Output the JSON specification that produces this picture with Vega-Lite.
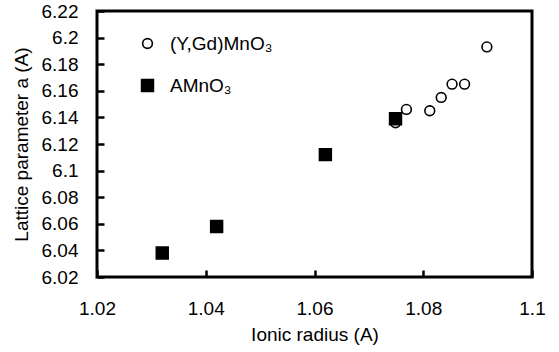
{
  "$schema": "https://vega.github.io/schema/vega-lite/v6.json",
  "width": 435,
  "height": 266,
  "autosize": "none",
  "padding": {"left": 97, "top": 11, "right": 27, "bottom": 75},
  "background": "white",
  "config": {
    "font": "Liberation Sans",
    "view": {"stroke": "black", "strokeWidth": 3}
  },
  "data": {
    "values": [
      {"series": "AMnO₃", "r": 1.032, "a": 6.038},
      {"series": "AMnO₃", "r": 1.042, "a": 6.058},
      {"series": "AMnO₃", "r": 1.062, "a": 6.112},
      {"series": "(Y,Gd)MnO₃", "r": 1.0749, "a": 6.136},
      {"series": "(Y,Gd)MnO₃", "r": 1.0769, "a": 6.146},
      {"series": "(Y,Gd)MnO₃", "r": 1.0812, "a": 6.145},
      {"series": "(Y,Gd)MnO₃", "r": 1.0833, "a": 6.155},
      {"series": "(Y,Gd)MnO₃", "r": 1.0853, "a": 6.165},
      {"series": "(Y,Gd)MnO₃", "r": 1.0876, "a": 6.165},
      {"series": "(Y,Gd)MnO₃", "r": 1.0917, "a": 6.193},
      {"series": "AMnO₃", "r": 1.0749, "a": 6.139}
    ]
  },
  "mark": {"type": "point", "strokeWidth": 1.6, "opacity": 1},
  "encoding": {
    "x": {
      "field": "r",
      "type": "quantitative",
      "title": "Ionic radius (A)",
      "scale": {"domain": [1.02, 1.1], "nice": false, "zero": false},
      "axis": {
        "values": [1.02, 1.04, 1.06, 1.08, 1.1], "format": "~g",
        "offset": -7,
        "grid": false, "domain": false, "ticks": true, "tickColor": "black", "tickWidth": 2.5, "tickSize": 7,
        "labelFont": "Liberation Sans", "labelFontSize": 19, "labelColor": "black", "labelPadding": 22, "labelFlush": false,
        "titleFont": "Liberation Sans", "titleFontSize": 19, "titleFontWeight": "normal", "titleColor": "black", "titlePadding": 7
      }
    },
    "y": {
      "field": "a",
      "type": "quantitative",
      "title": "Lattice parameter a (A)",
      "scale": {"domain": [6.02, 6.22], "nice": false, "zero": false},
      "axis": {
        "values": [6.02, 6.04, 6.06, 6.08, 6.1, 6.12, 6.14, 6.16, 6.18, 6.2, 6.22], "format": "~g",
        "offset": -7,
        "grid": false, "domain": false, "ticks": true, "tickColor": "black", "tickWidth": 2.5, "tickSize": 7,
        "labelFont": "Liberation Sans", "labelFontSize": 19, "labelColor": "black", "labelPadding": 19, "labelFlush": false,
        "titleFont": "Liberation Sans", "titleFontSize": 19, "titleFontWeight": "normal", "titleColor": "black", "titlePadding": 10
      }
    },
    "shape": {
      "field": "series",
      "type": "nominal",
      "scale": {"domain": ["(Y,Gd)MnO₃", "AMnO₃"], "range": ["circle", "square"]},
      "legend": {
        "title": null,
        "orient": "none",
        "legendX": 41,
        "legendY": 23,
        "labelFontSize": 19,
        "labelFont": "Liberation Sans",
        "labelColor": "black",
        "symbolStrokeWidth": 1.6,
        "symbolStrokeColor": "black",
        "rowPadding": 22,
        "labelOffset": 13
      }
    },
    "fill": {
      "field": "series",
      "type": "nominal",
      "scale": {"domain": ["(Y,Gd)MnO₃", "AMnO₃"], "range": ["white", "black"]}
    },
    "size": {
      "field": "series",
      "type": "nominal",
      "scale": {"domain": ["(Y,Gd)MnO₃", "AMnO₃"], "range": [95, 140]}
    },
    "stroke": {"value": "black"}
  }
}
